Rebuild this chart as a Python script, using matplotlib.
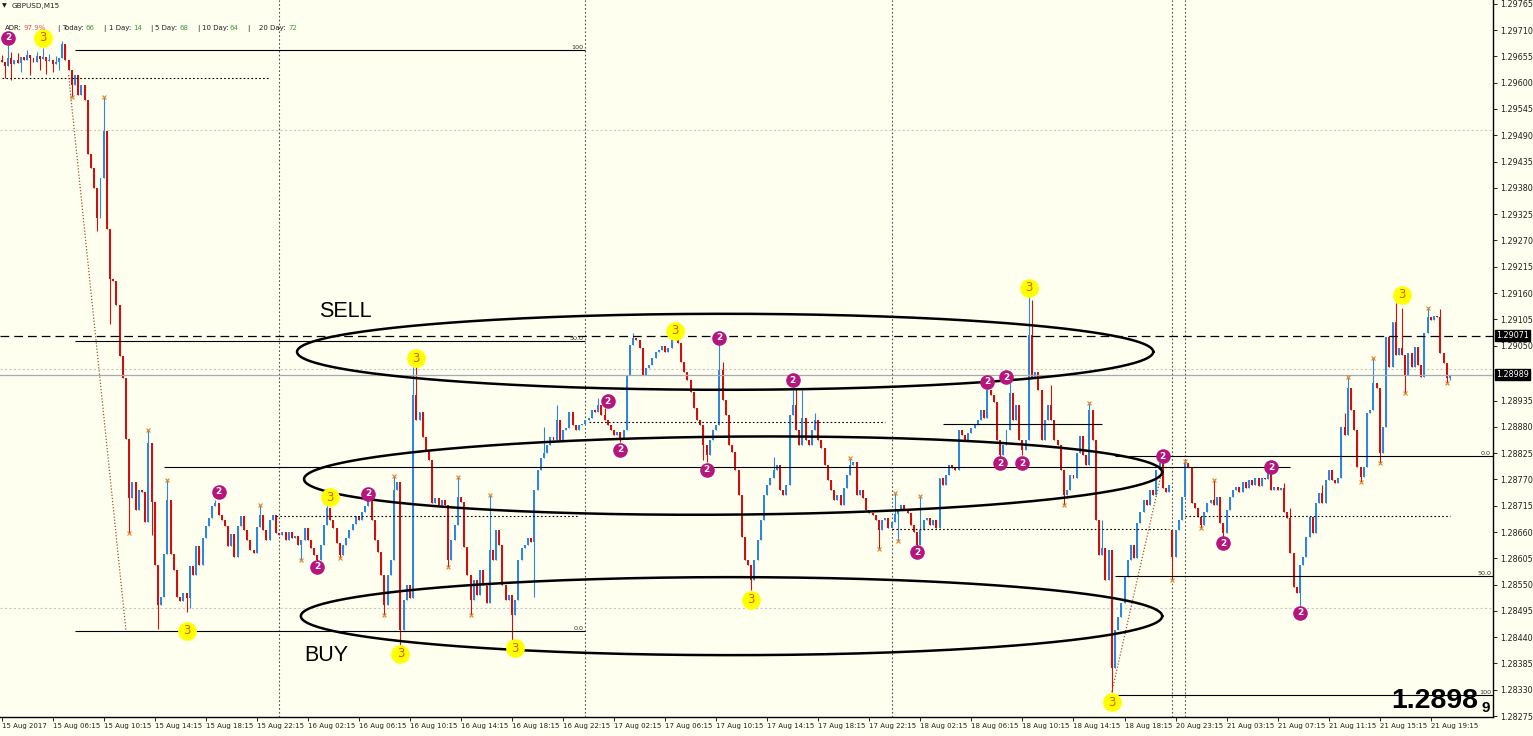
import numpy as np
import matplotlib.pyplot as plt
import matplotlib.transforms as mtransforms

plt.rcParams['font.family'] = ['DejaVu Sans']

W, H = 1533, 736
BG = '#fffff0'
BLUE = '#2e86de'
RED = '#d10f0f'

# GBPUSD M15 - prices in tenths of a pip above 1.28000
base = 1.28
first_open = 1647
close = [
    1643, 1635, 1652, 1639, 1647, 1641, 1654, 1647, 1658, 1652,   # 0
    1643, 1656, 1650, 1654, 1645, 1647, 1639, 1643, 1652, 1681,   # 10
    1647, 1627, 1595, 1616, 1574, 1595, 1564, 1451, 1422, 1380,   # 20
    1317, 1401, 1499, 1294, 1189, 1185, 1135, 1028, 982, 855,     # 30
    731, 765, 706, 748, 744, 681, 846, 723, 591, 507,             # 40
    524, 614, 727, 614, 581, 524, 516, 532, 522, 589,             # 50
    570, 631, 591, 648, 673, 689, 714, 721, 696, 685,             # 60
    673, 631, 656, 608, 673, 694, 664, 643, 622, 616,             # 70
    670, 696, 664, 643, 685, 696, 658, 654, 660, 643,             # 80
    660, 648, 652, 633, 643, 668, 643, 627, 612, 601,             # 90
    633, 675, 710, 685, 668, 637, 612, 633, 648, 664,             # 100
    677, 694, 685, 702, 714, 727, 685, 643, 618, 570,             # 110
    507, 570, 601, 748, 765, 455, 518, 549, 522, 947,             # 120
    894, 911, 859, 832, 811, 721, 731, 717, 727, 717,             # 130
    601, 643, 675, 733, 723, 629, 570, 518, 560, 528,             # 140
    581, 549, 512, 622, 601, 664, 633, 549, 518, 528,             # 150
    486, 518, 601, 627, 633, 648, 639, 748, 790, 815,             # 160
    825, 842, 859, 853, 894, 853, 873, 878, 911, 884,             # 170
    873, 884, 886, 894, 899, 915, 911, 926, 905, 894,             # 180
    884, 873, 863, 869, 857, 873, 988, 1051, 1066, 1062,          # 190
    1045, 988, 1003, 1009, 1024, 1037, 1041, 1049, 1037, 1045,    # 200
    1062, 1066, 1055, 1016, 995, 978, 953, 919, 894, 884,         # 210
    842, 821, 853, 873, 884, 999, 936, 905, 842, 827,             # 220
    790, 737, 650, 601, 591, 560, 601, 643, 685, 737,             # 230
    758, 773, 790, 800, 748, 737, 758, 905, 926, 873,             # 240
    842, 899, 853, 842, 873, 894, 853, 836, 800, 769,             # 250
    748, 727, 737, 717, 752, 779, 800, 806, 737, 748,             # 260
    731, 706, 700, 696, 685, 664, 685, 689, 668, 681,             # 270
    698, 706, 717, 706, 700, 675, 660, 633, 664, 685,             # 280
    689, 675, 685, 668, 773, 758, 779, 800, 794, 790,             # 290
    873, 863, 853, 867, 878, 884, 894, 915, 899, 957,             # 300
    947, 932, 853, 821, 842, 873, 951, 894, 926, 853,             # 310
    832, 853, 1072, 982, 995, 957, 853, 894, 926, 894,            # 320
    853, 842, 790, 737, 748, 779, 773, 825, 861, 821,             # 330
    800, 915, 853, 685, 612, 627, 560, 622, 376, 455,             # 340
    482, 512, 566, 601, 633, 606, 679, 702, 727, 717,             # 350
    748, 737, 790, 804, 752, 744, 758, 608, 664, 685,             # 360
    733, 804, 796, 721, 710, 691, 675, 702, 721, 727,             # 370
    717, 733, 679, 658, 706, 733, 748, 754, 744, 765,             # 380
    752, 769, 758, 773, 756, 773, 771, 790, 748, 754,             # 390
    748, 752, 702, 689, 616, 545, 532, 591, 608, 650,             # 400
    691, 658, 721, 742, 721, 769, 790, 769, 763, 773,             # 410
    880, 863, 961, 915, 873, 796, 775, 796, 909, 915,             # 420
    972, 961, 825, 880, 1068, 1005, 1099, 1030, 1045, 1030,       # 430
    988, 1035, 1005, 1047, 1009, 984, 1076, 1110, 1104, 1112,     # 440
    1110, 1035, 1014, 982, 989,                                   # 450
]
weekend_bar = 367
weekend_open = 664

# wick extremes that stand out from the bodies
spike_high = {0: 1658, 2: 1679, 3: 1664, 5: 1662, 8: 1668, 11: 1664, 13: 1673, 15: 1660,
              17: 1656, 19: 1687, 32: 1570, 46: 873, 52: 769,
              67: 727, 81: 717, 102: 717, 115: 733, 123: 777, 129: 1005, 130: 1009,
              143: 775, 153: 737, 170: 880, 174: 926, 187: 940, 189: 919, 198: 1076,
              210: 1068, 225: 1055, 226: 1016, 242: 817, 248: 957, 249: 961, 251: 957,
              255: 909, 266: 815, 280: 742, 288: 735, 309: 968, 316: 972, 322: 1152,
              323: 1145, 329: 968, 341: 930, 345: 685, 363: 815, 367: 664, 371: 809,
              380: 769, 397: 798, 402: 763, 404: 710, 414: 758, 421: 909, 422: 984,
              430: 1024, 437: 1139, 439: 1129, 447: 1129, 451: 1127}
spike_low = {1: 1610, 3: 1606, 6: 1622, 9: 1616, 12: 1627, 14: 1618, 16: 1622, 18: 1627,
             22: 1570, 30: 1290, 34: 1095, 40: 658, 47: 654, 49: 457, 58: 493,
             59: 501, 94: 601, 99: 597, 106: 606, 120: 486, 125: 424, 140: 587,
             147: 486, 160: 430, 167: 524, 194: 848, 220: 811, 221: 806, 235: 539,
             275: 625, 281: 641, 287: 625, 313: 815, 320: 821, 333: 717, 348: 325,
             367: 560, 376: 668, 383: 650, 407: 503, 426: 765, 432: 804, 440: 951,
             453: 972, 454: 978}

# fractal crosses (bar indices, at high / at low)
cross_hi = [32, 46, 52, 81, 123, 143, 153, 266, 280, 288, 341, 371, 380, 422, 430, 447]
cross_lo = [22, 40, 94, 106, 120, 140, 147, 275, 281, 333, 367, 376, 426, 432, 440, 453]

# signal bubbles: bar index and price level
sig2_bar = [2, 68, 99, 115, 190, 194, 221, 225, 248, 287, 309, 313, 315, 320, 364, 383, 398, 407]
sig2_lvl = [1694, 744, 587, 740, 934, 832, 790, 1066, 978, 618, 974, 804, 984, 804, 819, 637, 796, 491]
sig3_bar = [13, 58, 103, 125, 130, 161, 211, 235, 322, 348, 439]
sig3_lvl = [1694, 453, 733, 405, 1024, 417, 1081, 518, 1171, 304, 1156]

tick_bars = list(range(0, 353, 16)) + list(range(368, 449, 16))
tick_labels = ['15 Aug 2017', '15 Aug 06:15', '15 Aug 10:15', '15 Aug 14:15', '15 Aug 18:15',
               '15 Aug 22:15', '16 Aug 02:15', '16 Aug 06:15', '16 Aug 10:15', '16 Aug 14:15',
               '16 Aug 18:15', '16 Aug 22:15', '17 Aug 02:15', '17 Aug 06:15', '17 Aug 10:15',
               '17 Aug 14:15', '17 Aug 18:15', '17 Aug 22:15', '18 Aug 02:15', '18 Aug 06:15',
               '18 Aug 10:15', '18 Aug 14:15', '18 Aug 18:15', '20 Aug 23:15', '21 Aug 03:15',
               '21 Aug 07:15', '21 Aug 11:15', '21 Aug 15:15', '21 Aug 19:15']
day_breaks = [87, 183, 279, 367, 371]
price_ticks = [1.28275, 1.28330, 1.28385, 1.28440, 1.28495, 1.28550, 1.28605, 1.28660,
               1.28715, 1.28770, 1.28825, 1.28880, 1.28935, 1.29050, 1.29105, 1.29160,
               1.29215, 1.29270, 1.29325, 1.29380, 1.29435, 1.29490, 1.29545, 1.29600,
               1.29655, 1.29710, 1.29765]
round_levels = [1.2850, 1.2900, 1.2950]
line_level = 1.29071
bid = 1.28989

# fibo sets: first bar, last bar, 0 level, 100 level
fibs = [(23, 183, 453, 1668), (349, 467.4, 819, 319)]
# dotted previous-level lines: first bar, last bar, level
dotted = [(0, 84, 1610), (86, 181, 694), (184, 277, 890), (279, 366, 666), (371, 454, 694)]
# solid horizontal lines
solid = [(51, 404, 796), (295, 345, 886)]
# zigzag legs: bars, levels
zigzag = [([21, 39], [1616, 453]), ([348, 364], [325, 796])]
# ellipses: centre bar, centre level, half width (bars), half height, tilt
ellipses = [(226.8, 1037, 134.2, 79.5, 0.0),
            (229.3, 778, 134.5, 81.6, 0.0545),
            (228.8, 484, 135.0, 81.6, 0.0)]

def P(v):
    return base + np.asarray(v, dtype=float) / 1e5

# candles
c = P(close)
o = np.r_[first_open, close[:-1]].astype(float)
o[weekend_bar] = weekend_open
o = P(o)
hi = np.maximum(o, c)
lo = np.minimum(o, c)
for i, v in spike_high.items():
    hi[i] = max(hi[i], P(v))
for i, v in spike_low.items():
    lo[i] = min(lo[i], P(v))
x = np.arange(len(c))
col = np.where(c >= o, BLUE, RED)

fig = plt.figure(figsize=(W / 100, H / 100), dpi=100, facecolor=BG)
ax = fig.add_axes([0, 19 / H, 1493 / W, 717 / H], facecolor=BG)
ax.set_xlim(-0.5, 467.5)
ax.set_ylim(1.28273, 1.29773)

ax.vlines(x, lo, hi, colors=col, lw=0.8, zorder=2)
body = np.maximum(np.abs(c - o), 0.000015)
ax.bar(x, body, bottom=np.minimum(o, c), width=0.62, color=col, linewidth=0, zorder=2)

# grid-ish levels and separators
for lvl in round_levels:
    ax.axhline(lvl, color='#c8c8c8', lw=0.8, ls=(0, (2, 2)), zorder=1)
for b in day_breaks:
    ax.axvline(b, color='#505050', lw=0.8, ls=(0, (1.5, 2)), zorder=1)
ax.axhline(line_level, color='black', lw=0.9, ls=(0, (7, 4)), zorder=3)
ax.axhline(bid, color='#a4a8b8', lw=0.9, zorder=3)

for b0, b1, v in dotted:
    ax.hlines(P(v), b0, b1, color='black', lw=0.8, ls=(0, (1.5, 2)), zorder=3)
for b0, b1, v in solid:
    ax.hlines(P(v), b0, b1, color='black', lw=0.8, zorder=3)
for b0, b1, v0, v100 in fibs:
    for pct, lab in [(0, '0.0'), (50, '50.0'), (100, '100')]:
        lvl = P(v0 + (v100 - v0) * pct / 100)
        ax.hlines(lvl, b0, b1, color='black', lw=0.8, zorder=3)
        ax.text(b1 - 0.5, lvl, lab, fontsize=4.6, ha='right', va='bottom', color='#303030', zorder=4)
for bars, lv in zigzag:
    ax.plot(bars, P(lv), color='#a0522d', lw=0.9, ls=(0, (1, 1.5)), zorder=3)

t = np.linspace(0, 2 * np.pi, 400)
for cx, cy, a, b, k in ellipses:
    ax.plot(cx + a * np.cos(t), P(cy + b * np.sin(t) + k * a * np.cos(t)), color='black', lw=1.8, zorder=4)

# fractal crosses
ax.plot(cross_hi, hi[cross_hi], ls='none', marker='x', ms=3, mew=0.8, color='#e0852e', zorder=5)
ax.plot(cross_lo, lo[cross_lo], ls='none', marker='x', ms=3, mew=0.8, color='#e0852e', zorder=5)

# signal bubbles
ax.plot(sig2_bar, P(sig2_lvl), ls='none', marker='o', ms=10.5, mew=0, color='#b5157d', zorder=6)
for b, v in zip(sig2_bar, sig2_lvl):
    ax.text(b, P(v), '2', fontsize=6.5, fontweight='bold', color='white', ha='center', va='center', zorder=7)
ax.plot(sig3_bar, P(sig3_lvl), ls='none', marker='o', ms=13.5, mew=0, color='#ffff00', zorder=6)
for b, v in zip(sig3_bar, sig3_lvl):
    ax.text(b, P(v), '3', fontsize=8.5, color='#e05a00', ha='center', va='center', zorder=7)

ax.text(99.5, P(1122), 'SELL', fontsize=15.5, family='Liberation Sans', va='center', ha='left', zorder=6)
ax.text(95, P(401), 'BUY', fontsize=15.5, family='Liberation Sans', va='center', ha='left', zorder=6)

# axes look
for s in ['left', 'top']:
    ax.spines[s].set_visible(False)
ax.spines['right'].set_linewidth(1)
ax.spines['bottom'].set_linewidth(1)
ax.yaxis.tick_right()
ax.set_yticks(price_ticks)
ax.set_yticklabels([f'{p:.5f}' for p in price_ticks], fontsize=5.8, color='#202020')
ax.tick_params(axis='y', length=3, width=0.6, pad=2)
ax.set_xticks(tick_bars)
ax.set_xticklabels(tick_labels, fontsize=5.0, ha='left', color='#202020')
ax.tick_params(axis='x', length=3, width=0.6, pad=1.5)

trans = mtransforms.blended_transform_factory(ax.transAxes, ax.transData)
for lvl in [line_level, bid]:
    ax.text(1.002, lvl, f'{lvl:.5f}', transform=trans, fontsize=5.8, color='white', ha='left', va='center',
            bbox=dict(boxstyle='square,pad=0.15', fc='black', ec='black'), clip_on=False, zorder=8)

# big bid readout
bid_txt = f'{bid:.5f}'
fig.text(1478 / W, 1 - 701 / H, bid_txt[:-1], fontsize=20.5, fontweight='bold', family='Liberation Sans',
         ha='right', va='center')
fig.text(1482 / W, 1 - 708 / H, bid_txt[-1], fontsize=11, fontweight='bold', family='Liberation Sans',
         ha='left', va='center')

# header
def px(xp, yp):
    return xp / W, 1 - yp / H

fig.text(*px(2, 6), '\u25bc', fontsize=4.5, va='center', color='#202020')
fig.text(*px(12, 6), 'GBPUSD,M15', fontsize=5.2, va='center', color='#202020')
header = [('ADR:', 5, '#202020'), ('97.9%', 23, '#e05050'), ('|', 57, '#202020'), ('Today:', 62, '#202020'),
          ('66', 86, '#3c9a3c'), ('|', 103, '#202020'), ('1 Day:', 109, '#202020'), ('14', 133, '#3c9a3c'),
          ('|', 150, '#202020'), ('5 Day:', 155, '#202020'), ('68', 179, '#3c9a3c'), ('|', 197, '#202020'),
          ('10 Day:', 202, '#202020'), ('64', 230, '#3c9a3c'), ('|', 247, '#202020'), ('20 Day:', 259, '#202020'),
          ('72', 288, '#3c9a3c')]
for txt, xp, cc in header:
    fig.text(*px(xp, 28), txt, fontsize=5.0, va='center', color=cc)

fig.savefig('out.png', dpi=100, facecolor=BG)
